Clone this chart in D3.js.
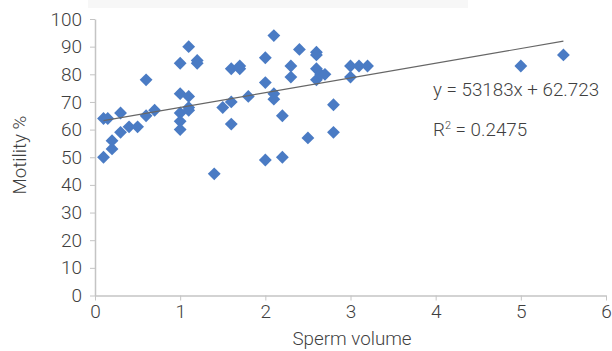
<!DOCTYPE html>
<html>
<head>
<meta charset="utf-8">
<script src="https://cdn.jsdelivr.net/npm/d3@7"></script>
<style>
  body { margin: 0; background: #fff; }
  text { font-family: Roboto, sans-serif; font-weight: 300; fill: #3f3f3f; }
</style>
</head>
<body>
<div id="chart"></div>
<script>
// sperm volume (x) and motility % (y)
const volume = [0.1, 0.1, 0.15, 0.2, 0.2, 0.3, 0.3, 0.4, 0.5, 0.6, 0.6, 0.7,
  1.0, 1.0, 1.0, 1.0, 1.0, 1.1, 1.1, 1.1, 1.1, 1.2, 1.2,
  1.4, 1.5, 1.6, 1.6, 1.6, 1.7, 1.7, 1.8,
  2.0, 2.0, 2.0, 2.1, 2.1, 2.1, 2.2, 2.2, 2.3, 2.3, 2.4, 2.5,
  2.6, 2.6, 2.6, 2.6, 2.65, 2.7, 2.8, 2.8, 3.0, 3.0, 3.1, 3.2, 5.0, 5.5];
const motility = [50, 64, 64, 53, 56, 66, 59, 61, 61, 78, 65, 67,
  84, 73, 66, 63, 60, 90, 72, 68, 67, 85, 84,
  44, 68, 70, 62, 82, 83, 82, 72,
  86, 77, 49, 94, 73, 71, 65, 50, 83, 79, 89, 57,
  88, 87, 82, 78, 80, 80, 69, 59, 83, 79, 83, 83, 83, 87];

const xTicks = [0, 1, 2, 3, 4, 5, 6];
const yTicks = [0, 10, 20, 30, 40, 50, 60, 70, 80, 90, 100];

// linear trend line as printed on the chart
const slope = 5.3183;
const intercept = 62.723;
const equationLabel = 'y = 53183x + 62.723';
const r2Label = '0.2475';

const W = 612, H = 351;
const margin = { top: 19, right: 6, bottom: 55.5, left: 95 };
const width = W - margin.left - margin.right;
const height = H - margin.top - margin.bottom;

const svg = d3.select('#chart')
  .append('svg')
  .attr('width', W)
  .attr('height', H);

// faint band at the very top of the source image
svg.append('rect')
  .attr('x', 88).attr('y', 0)
  .attr('width', 380).attr('height', 8)
  .attr('fill', '#f7f7f7');

const g = svg.append('g')
  .attr('transform', `translate(${margin.left}, ${margin.top})`);

const x = d3.scaleLinear().domain([0, 6]).range([0, width]);
const y = d3.scaleLinear().domain([0, 100]).range([height, 0]);

// y-axis
const yAxis = g.append('g')
  .call(d3.axisLeft(y).tickValues(yTicks).tickFormat(d3.format('d'))
    .tickSize(5).tickPadding(8).tickSizeOuter(0));
yAxis.select('.domain').attr('stroke', '#c4c4c4').attr('stroke-width', 1.5);
yAxis.selectAll('.tick line').attr('stroke', '#c4c4c4').attr('stroke-width', 1);
yAxis.selectAll('text').attr('font-size', '19px').attr('font-family', 'Roboto').attr('fill', '#3f3f3f');

// x-axis
const xAxis = g.append('g')
  .attr('transform', `translate(0, ${height})`)
  .call(d3.axisBottom(x).tickValues(xTicks).tickFormat(d3.format('d'))
    .tickSize(5).tickPadding(4).tickSizeOuter(0));
xAxis.select('.domain').attr('stroke', '#c4c4c4').attr('stroke-width', 1.5);
xAxis.selectAll('.tick line').attr('stroke', '#c4c4c4').attr('stroke-width', 1);
xAxis.selectAll('text').attr('font-size', '19px').attr('font-family', 'Roboto').attr('fill', '#3f3f3f');

// points
const pts = volume.map((v, i) => ({ v: v, m: motility[i] }));
g.append('g')
  .selectAll('path')
  .data(pts)
  .enter()
  .append('path')
  .attr('d', d3.symbol().type(d3.symbolDiamond2).size(105))
  .attr('transform', d => `translate(${x(d.v)}, ${y(d.m)})`)
  .attr('fill', '#4a7bc4');

// trend line
const xMin = d3.min(volume), xMax = d3.max(volume);
g.append('line')
  .attr('x1', x(xMin)).attr('y1', y(slope * xMin + intercept))
  .attr('x2', x(xMax)).attr('y2', y(slope * xMax + intercept))
  .attr('stroke', '#666')
  .attr('stroke-width', 1.2);

// equation
svg.append('text')
  .attr('x', 433).attr('y', 96)
  .attr('font-size', '18.8px')
  .text(equationLabel);

const r2 = svg.append('text')
  .attr('x', 433).attr('y', 136)
  .attr('font-size', '18.8px');
r2.append('tspan').text('R');
r2.append('tspan').attr('dy', -7).attr('font-size', '11px').text('2');
r2.append('tspan').attr('dy', 7).text(' = ' + r2Label);

// axis titles
svg.append('text')
  .attr('transform', 'translate(26, 155) rotate(-90)')
  .attr('text-anchor', 'middle')
  .attr('font-size', '18.8px')
  .text('Motility %');

svg.append('text')
  .attr('x', 352).attr('y', 345)
  .attr('text-anchor', 'middle')
  .attr('font-size', '18.8px')
  .text('Sperm volume');
</script>
</body>
</html>
